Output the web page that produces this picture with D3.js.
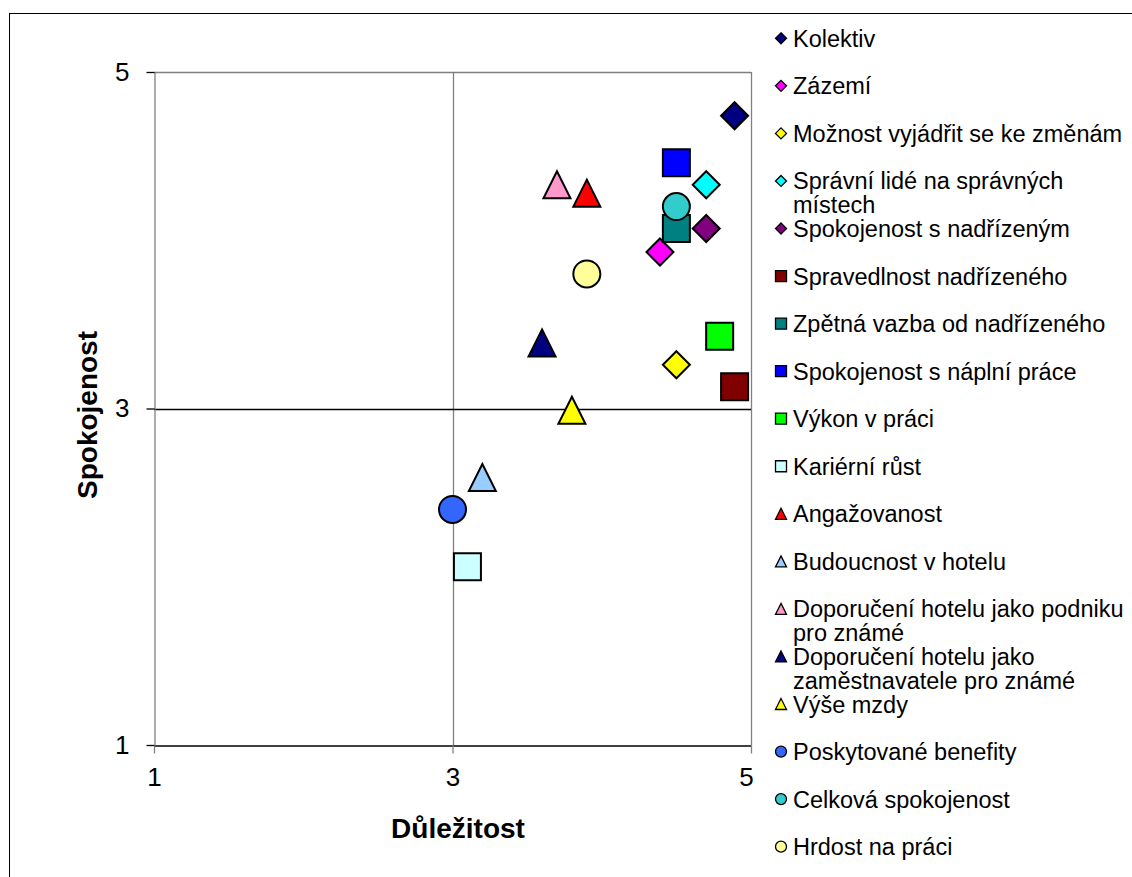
<!DOCTYPE html>
<html>
<head>
<meta charset="utf-8">
<script src="https://cdn.jsdelivr.net/npm/d3@7"></script>
<style>
  html, body { margin: 0; padding: 0; background: #fff; }
  svg { display: block; font-family: "Liberation Sans", Arial, sans-serif; }
</style>
</head>
<body>
<svg id="chart" width="1132" height="877"></svg>
<script>
// Importance (x) vs. satisfaction (y) of workplace factors
const categories = [
  "Kolektiv",
  "Zázemí",
  "Možnost vyjádřit se ke změnám",
  "Správní lidé na správných místech",
  "Spokojenost s nadřízeným",
  "Spravedlnost nadřízeného",
  "Zpětná vazba od nadřízeného",
  "Spokojenost s náplní práce",
  "Výkon v práci",
  "Kariérní růst",
  "Angažovanost",
  "Budoucnost v hotelu",
  "Doporučení hotelu jako podniku pro známé",
  "Doporučení hotelu jako zaměstnavatele pro známé",
  "Výše mzdy",
  "Poskytované benefity",
  "Celková spokojenost",
  "Hrdost na práci"
];
const importance   = [4.89, 4.39, 4.50, 4.70, 4.70, 4.89, 4.50, 4.50, 4.79, 3.10, 3.90, 3.20, 3.70, 3.60, 3.80, 3.00, 4.50, 3.90];
const satisfaction = [4.74, 3.93, 3.26, 4.33, 4.07, 3.13, 4.07, 4.46, 3.43, 2.06, 4.28, 2.59, 4.33, 3.39, 2.99, 2.40, 4.20, 3.80];

const xTickValues = [1, 3, 5];
const yTickValues = [1, 3, 5];
const xTitle = "Důležitost";
const yTitle = "Spokojenost";

// Marker styling per series
const markerShapes = [
  "diamond", "diamond", "diamond", "diamond", "diamond",
  "square", "square", "square", "square", "square",
  "triangle", "triangle", "triangle", "triangle", "triangle",
  "circle", "circle", "circle"
];
const markerColors = [
  "#000080", "#FF00FF", "#FFFF00", "#00FFFF", "#800080",
  "#800000", "#008080", "#0000FF", "#00FF00", "#CCFFFF",
  "#FF0000", "#99CCFF", "#FF99CC", "#000080", "#FFFF00",
  "#3366FF", "#33CCCC", "#FFFF99"
];

// Symbol types where "size" is the side of the marker's bounding box
const symbolTypes = {
  diamond: { draw(ctx, s) { const h = s / 2; ctx.moveTo(0, -h); ctx.lineTo(h, 0); ctx.lineTo(0, h); ctx.lineTo(-h, 0); ctx.closePath(); } },
  square:  { draw(ctx, s) { const h = s / 2; ctx.rect(-h, -h, s, s); } },
  triangle:{ draw(ctx, s) { const h = s / 2; ctx.moveTo(0, -h); ctx.lineTo(h, h); ctx.lineTo(-h, h); ctx.closePath(); } },
  circle:  { draw(ctx, s) { const r = s / 2; ctx.moveTo(r, 0); ctx.arc(0, 0, r, 0, 2 * Math.PI); } }
};

const svg = d3.select("#chart");

// Chart frame
svg.append("rect")
  .attr("x", 9.5).attr("y", 13.5)
  .attr("width", 1200).attr("height", 1000)
  .attr("fill", "#fff").attr("stroke", "#000").attr("stroke-width", 1);

const plot = { left: 154, right: 751, top: 72, bottom: 745 };
const x = d3.scaleLinear().domain([1, 5]).range([plot.left, plot.right]);
const y = d3.scaleLinear().domain([1, 5]).range([plot.bottom, plot.top]);

// Grid lines
const grid = svg.append("g");
grid.selectAll("line.v")
  .data(xTickValues.filter(v => v > 1))
  .join("line")
  .attr("x1", d => Math.round(x(d)) + 0.5).attr("x2", d => Math.round(x(d)) + 0.5)
  .attr("y1", plot.top).attr("y2", plot.bottom)
  .attr("stroke", "#808080").attr("stroke-width", 1.3);
grid.selectAll("line.h")
  .data(yTickValues.filter(v => v > 1))
  .join("line")
  .attr("x1", plot.left).attr("x2", plot.right)
  .attr("y1", d => Math.round(y(d)) + 0.5).attr("y2", d => Math.round(y(d)) + 0.5)
  .attr("stroke", d => d === 5 ? "#808080" : "#000").attr("stroke-width", 1.3);

// Axes
const xAxis = svg.append("g")
  .attr("transform", `translate(0,${Math.round(y(1)) + 0.5})`)
  .call(d3.axisBottom(x).tickValues(xTickValues).tickFormat(d3.format("d")).tickSizeInner(8).tickSizeOuter(0).tickPadding(14));
xAxis.select(".domain").attr("stroke", "#000").attr("stroke-width", 1.3);
xAxis.selectAll(".tick line").attr("stroke", "#808080").attr("stroke-width", 1.3);
xAxis.selectAll(".tick text").attr("font-size", 26).attr("font-family", "Liberation Sans, Arial, sans-serif").attr("fill", "#000")
  .attr("dx", d => d === 5 ? -5 : 0);

const yAxis = svg.append("g")
  .attr("transform", `translate(${Math.round(x(1)) + 0.5},0)`)
  .call(d3.axisLeft(y).tickValues(yTickValues).tickFormat(d3.format("d")).tickSizeInner(8).tickSizeOuter(0).tickPadding(17));
yAxis.select(".domain").attr("stroke", "#808080").attr("stroke-width", 1.3);
yAxis.selectAll(".tick line").attr("stroke", "#000").attr("stroke-width", 1.3);
yAxis.selectAll(".tick text").attr("font-size", 26).attr("font-family", "Liberation Sans, Arial, sans-serif").attr("fill", "#000");

// Axis titles
svg.append("text")
  .attr("x", 458).attr("y", 838)
  .attr("text-anchor", "middle")
  .attr("font-size", 28).attr("font-weight", "bold")
  .text(xTitle);
svg.append("text")
  .attr("transform", "translate(97,415) rotate(-90)")
  .attr("text-anchor", "middle")
  .attr("font-size", 28).attr("font-weight", "bold")
  .text(yTitle);

// Data markers
const series = categories.map((name, i) => ({
  name, x: importance[i], y: satisfaction[i], shape: markerShapes[i], color: markerColors[i]
}));

svg.append("g").selectAll("path")
  .data(series)
  .join("path")
  .attr("transform", d => `translate(${x(d.x)},${y(d.y)})`)
  .attr("d", d => d3.symbol(symbolTypes[d.shape], 27)())
  .attr("fill", d => d.color)
  .attr("stroke", "#000")
  .attr("stroke-width", 2)
  .attr("stroke-linejoin", "miter");

// Legend
const legendX = 781, legendTop = 38.3, legendStep = 47.55, legendWrap = 345, lineGap = 24;
const legend = svg.append("g");
const items = legend.selectAll("g")
  .data(series)
  .join("g")
  .attr("transform", (d, i) => `translate(${legendX},${legendTop + i * legendStep})`);

items.append("path")
  .attr("d", d => d3.symbol(symbolTypes[d.shape], 11)())
  .attr("fill", d => d.color)
  .attr("stroke", "#000")
  .attr("stroke-width", 1.3);

items.append("text")
  .attr("x", 12).attr("y", 8.5)
  .attr("font-size", 23.5)
  .attr("fill", "#000")
  .each(function(d) {
    const text = d3.select(this);
    const words = d.name.split(" ");
    let line = [];
    let tspan = text.append("tspan").attr("x", 12).attr("dy", 0);
    words.forEach(w => {
      line.push(w);
      tspan.text(line.join(" "));
      if (tspan.node().getComputedTextLength() > legendWrap && line.length > 1) {
        line.pop();
        tspan.text(line.join(" "));
        line = [w];
        tspan = text.append("tspan").attr("x", 12).attr("dy", lineGap).text(w);
      }
    });
  });
</script>
</body>
</html>
